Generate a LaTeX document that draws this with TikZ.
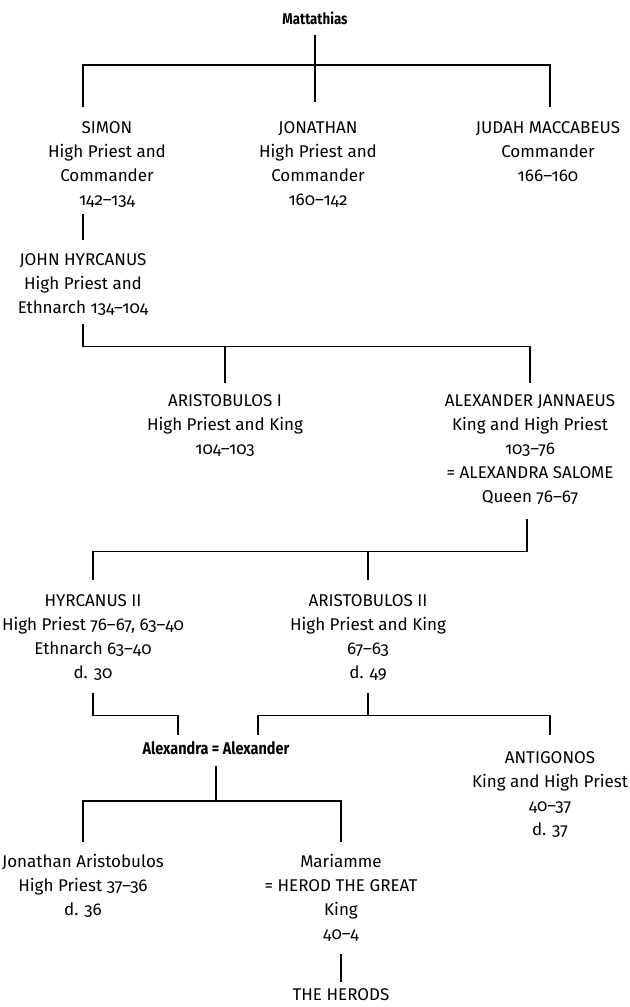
\documentclass[tikz,border=0pt]{standalone}
\usepackage{fontspec}
\setmainfont{Fira Sans}[Numbers=OldStyle]
\newfontfamily\headfont{Fira Sans}[Numbers=OldStyle, FakeStretch=0.85]
\usetikzlibrary{positioning}

\begin{document}
\begin{tikzpicture}[x=0.5pt, y=-0.5pt,
    person/.style={align=center, inner sep=0pt, anchor=north,
        font=\fontsize{8.5}{12}\selectfont},
    couple/.style={inner sep=0pt, anchor=base,
        font=\fontsize{8.5}{10}\selectfont\headfont\bfseries},
    every path/.style={line width=0.6pt}]
    \useasboundingbox (0,0) rectangle (629,1007);

    % Generation 1 and 2
    \node[couple, font=\fontsize{7.8}{9}\selectfont\headfont\bfseries] (matt) at (315,24) {Mattathias};
    \node[person] (simon) at (107,121) {SIMON\\High Priest and\\Commander\\142–134};
    \node[person] (jonathan) at (318,121) {JONATHAN\\High Priest and\\Commander\\160–142};
    \node[person] (judah) at (548,121) {JUDAH MACCABEUS\\Commander\\166–160};

    \coordinate (bar1) at (315,65);
    \draw ([yshift=-5.5pt]matt.base) -- ([xshift=-1.5pt,yshift=9.5pt]jonathan.north);
    \draw ([xshift=-12pt,yshift=7pt]simon.north) |- (bar1) -| ([xshift=1pt,yshift=7pt]judah.north);

    % John Hyrcanus and sons
    \node[person] (john) at (83,253) {JOHN HYRCANUS\\High Priest and\\Ethnarch 134–104};
    \draw ([xshift=-12pt,yshift=-3pt]simon.south) -- ([yshift=6.5pt]john.north);

    \node[person] (arist1) at (225,394) {ARISTOBULOS I\\High Priest and King\\104–103};
    \node[person] (jann) at (530,394) {ALEXANDER JANNAEUS\\King and High Priest\\103–76\\= ALEXANDRA SALOME\\Queen 76–67};

    \draw ([yshift=-4pt]john.south) -- ++(0,22) coordinate (bar2) -| ([yshift=5.5pt]jann.north);
    \draw ([yshift=5.5pt]arist1.north) -- (arist1.north |- bar2);

    % Hyrcanus II and Aristobulos II
    \node[person] (hyrc2) at (93,594) {HYRCANUS II\\High Priest 76–67, 63–40\\Ethnarch 63–40\\d. 30};
    \node[person] (arist2) at (368,594) {ARISTOBULOS II\\High Priest and King\\67–63\\d. 49};

    \draw ([xshift=-1.5pt,yshift=-7pt]jann.south) -- ++(0,32) coordinate (bar3) -| ([yshift=7pt]hyrc2.north);
    \draw ([yshift=7pt]arist2.north) -- (arist2.north |- bar3);

    % Alexandra = Alexander, Antigonos
    \node[couple] (alex) at (216,754) {Alexandra = Alexander};
    \node[person] (antig) at (550,751) {ANTIGONOS\\King and High Priest\\40–37\\d. 37};

    \draw ([yshift=-6pt]hyrc2.south) -- ++(0,22) -| ([xshift=-19pt,yshift=9.5pt]alex.base);
    \draw ([yshift=-6pt]arist2.south) -- ++(0,22) coordinate (bar5);
    \draw ([xshift=21pt,yshift=9.5pt]alex.base) |- (bar5) -| ([yshift=8pt]antig.north);

    % Last generation
    \node[person] (jarist) at (83,854) {Jonathan Aristobulos\\High Priest 37–36\\d. 36};
    \node[person] (mari) at (341,854) {Mariamme\\= HEROD THE GREAT\\King\\40–4};
    \node[person] (herods) at (341,988) {THE HERODS};

    \draw ([yshift=-6pt]alex.base) -- ++(0,35) coordinate (bar6);
    \draw ([yshift=6pt]jarist.north) |- (bar6) -| ([yshift=6pt]mari.north);
    \draw ([yshift=-6pt]mari.south) -- ([yshift=3pt]herods.north);
\end{tikzpicture}
\end{document}
